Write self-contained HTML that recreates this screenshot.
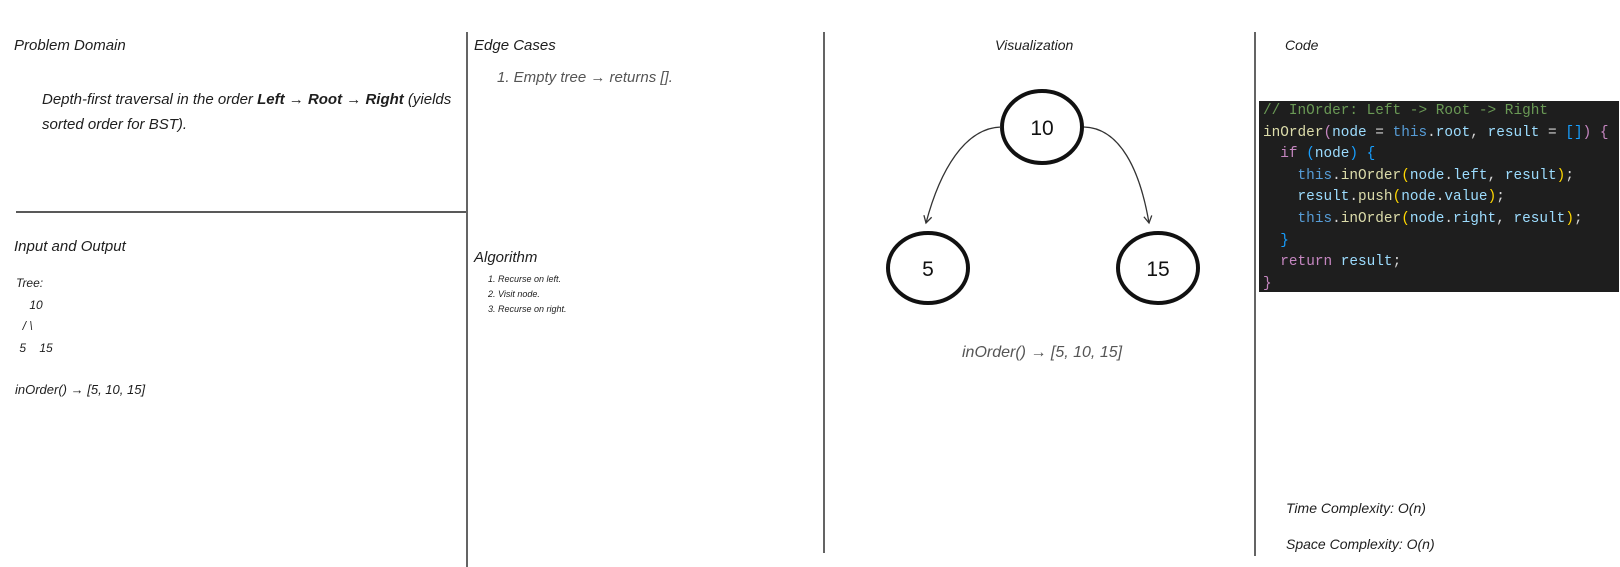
<!DOCTYPE html>
<html><head><meta charset="utf-8"><style>
body{margin:0;width:1620px;height:567px;background:#fff;position:relative;overflow:hidden;font-family:"Liberation Sans",sans-serif;}
.t{position:absolute;font-style:italic;color:#1e1e1e;white-space:nowrap;line-height:1;}
.g{color:#555}
.code{position:absolute;left:1259px;top:101px;width:360px;height:191px;background:#1e1e1e;font-family:"Liberation Mono",monospace;font-size:14.4px;line-height:21.6px;padding:0 0 0 4px;box-sizing:border-box;white-space:pre;color:#d4d4d4;}
.c{color:#6a9955}.f{color:#dcdcaa}.p{color:#9cdcfe}.k{color:#569cd6}.y{color:#ffd700}.m{color:#c586c0}.b{color:#179fff}
</style></head><body>
<svg width="1620" height="567" style="position:absolute;left:0;top:0">
<defs><marker id="a" markerWidth="10" markerHeight="10" refX="8" refY="5" orient="auto" markerUnits="userSpaceOnUse"><path d="M1,1 L8,5 L1,9" fill="none" stroke="#333" stroke-width="1.3"/></marker></defs>
<g stroke="#222" stroke-width="1.4">
<line x1="467" y1="32" x2="467" y2="567"/>
<line x1="824" y1="32" x2="824" y2="553"/>
<line x1="1255" y1="32" x2="1255" y2="556"/>
<line x1="16" y1="212" x2="466" y2="212"/>
</g>
<g fill="none" stroke="#111" stroke-width="4">
<ellipse cx="1042" cy="127" rx="40" ry="36"/>
<ellipse cx="928" cy="268" rx="40" ry="35"/>
<ellipse cx="1158" cy="268" rx="40" ry="35"/>
</g>
<g fill="none" stroke="#333" stroke-width="1.3">
<path d="M1001,127 C965,128 940,170 926,223" marker-end="url(#a)"/>
<path d="M1084,127 C1120,128 1140,170 1149,223" marker-end="url(#a)"/>
</g>
<g font-family="Liberation Sans, sans-serif" font-size="21" text-anchor="middle" fill="#111">
<text x="1042" y="135">10</text><text x="928" y="276">5</text><text x="1158" y="276">15</text>
</g>
</svg>
<div class="t" style="left:14px;top:38px;font-size:15px">Problem Domain</div>
<div class="t" style="left:42px;top:87px;font-size:15px;line-height:25px">Depth-first traversal in the order <b>Left</b> → <b>Root</b> → <b>Right</b> (yields<br>sorted order for BST).</div>
<div class="t" style="left:14px;top:239px;font-size:15px">Input and  Output</div>
<div class="t" style="left:16px;top:273px;font-size:12px;line-height:21.5px">Tree:<br>&nbsp;&nbsp;&nbsp;&nbsp;10<br>&nbsp;&nbsp;/ \<br>&nbsp;5&nbsp;&nbsp;&nbsp;&nbsp;15</div>
<div class="t" style="left:15px;top:383px;font-size:13px">inOrder() → [5, 10, 15]</div>
<div class="t" style="left:474px;top:38px;font-size:15px">Edge Cases</div>
<div class="t g" style="left:497px;top:70px;font-size:15px">1. Empty tree → returns [].</div>
<div class="t" style="left:474px;top:250px;font-size:15px">Algorithm</div>
<div class="t" style="left:488px;top:272px;font-size:9px;line-height:15px">1. Recurse on left.<br>2. Visit node.<br>3. Recurse on right.</div>
<div class="t" style="left:995px;top:38px;font-size:14px">Visualization</div>
<div class="t g" style="left:962px;top:345px;font-size:16px">inOrder() → [5, 10, 15]</div>
<div class="t" style="left:1285px;top:38px;font-size:14px">Code</div>
<div class="code"><span class="c">// InOrder: Left -&gt; Root -&gt; Right</span>
<span class="f">inOrder</span><span class="m">(</span><span class="p">node</span> = <span class="k">this</span>.<span class="p">root</span>, <span class="p">result</span> = <span class="b">[]</span><span class="m">)</span> <span class="m">{</span>
  <span class="m">if</span> <span class="b">(</span><span class="p">node</span><span class="b">)</span> <span class="b">{</span>
    <span class="k">this</span>.<span class="f">inOrder</span><span class="y">(</span><span class="p">node</span>.<span class="p">left</span>, <span class="p">result</span><span class="y">)</span>;
    <span class="p">result</span>.<span class="f">push</span><span class="y">(</span><span class="p">node</span>.<span class="p">value</span><span class="y">)</span>;
    <span class="k">this</span>.<span class="f">inOrder</span><span class="y">(</span><span class="p">node</span>.<span class="p">right</span>, <span class="p">result</span><span class="y">)</span>;
  <span class="b">}</span>
  <span class="m">return</span> <span class="p">result</span>;
<span class="m">}</span></div>
<div class="t" style="left:1286px;top:501px;font-size:14px">Time Complexity: O(n)</div>
<div class="t" style="left:1286px;top:537px;font-size:14px">Space Complexity: O(n)</div>
</body></html>
